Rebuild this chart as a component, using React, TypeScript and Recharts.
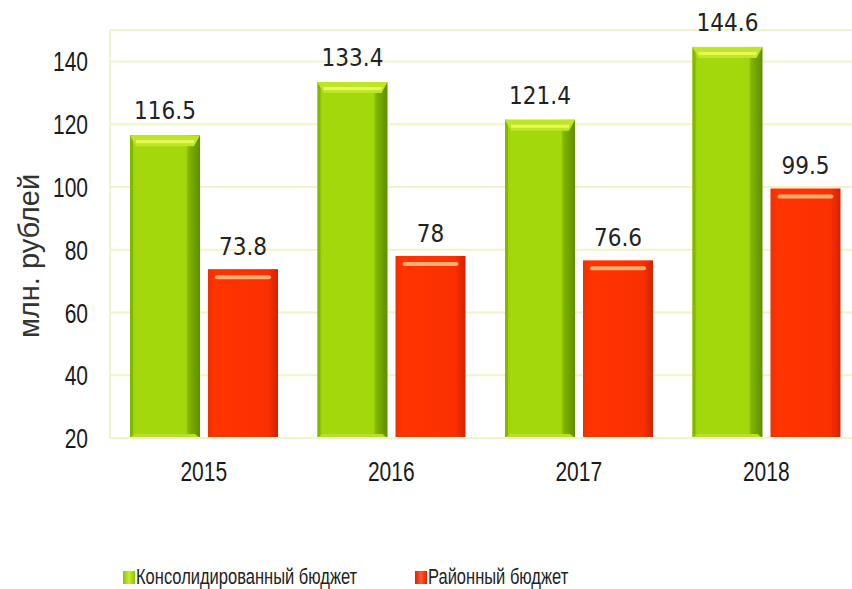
import { Bar, BarChart, CartesianGrid, LabelList, Legend, XAxis, YAxis } from "recharts";

const years = ["2015", "2016", "2017", "2018"];
const consolidated = [116.5, 133.4, 121.4, 144.6];
const district = [73.8, 78, 76.6, 99.5];
const yTicks = [20, 40, 60, 80, 100, 120, 140];

const seriesNames = { cons: "Консолидированный бюджет", dist: "Районный бюджет" };

const data = years.map((year, i) => ({ year, cons: consolidated[i], dist: district[i] }));

const SANS = "'Liberation Sans', Arial, sans-serif";
const COND = "'DejaVu Sans Condensed', 'DejaVu Sans', sans-serif";
const GRID = "#eef5c6";
const NARROW_X = 0.75;

function GreenBar(props: any) {
  const { x, y, width: w, height: h } = props;
  if (!h || h <= 0) return null;
  return (
    <g>
      <rect x={x} y={y} width={w} height={h} fill="url(#gBody)" />
      <rect x={x} y={y} width={3} height={h} fill="#84b800" />
      <polygon points={`${x},${y + h} ${x + w},${y + h} ${x + w - 5},${y + h - 4} ${x + 5},${y + h - 4}`} fill="#b6e02a" />
      <polygon points={`${x},${y} ${x + w},${y} ${x + w - 6},${y + 11} ${x + 6},${y + 11}`} fill="#bfe626" />
      <rect x={x + 6} y={y + 5} width={w - 12} height={3} fill="#e6fa5c" />
    </g>
  );
}

function RedBar(props: any) {
  const { x, y, width: w, height: h } = props;
  if (!h || h <= 0) return null;
  return (
    <g>
      <rect x={x} y={y} width={w} height={h} fill="url(#rBody)" />
      <rect x={x + 7} y={y + 6} width={w - 14} height={4} rx={2} fill="#ffae72" />
    </g>
  );
}

// narrow-looking tick text (no narrow font installed, so squeeze horizontally)
function XTick(props: any) {
  const { x, y, payload } = props;
  return (
    <text transform={`translate(${x},${y}) scale(${NARROW_X},1)`} textAnchor="middle" dy="0.72em" fontFamily={SANS} fontSize={28} fill="#1a1a1a">
      {payload.value}
    </text>
  );
}

function YTick(props: any) {
  const { x, y, payload } = props;
  return (
    <text transform={`translate(${x},${y}) scale(${NARROW_X},1)`} textAnchor="end" dy="0.36em" fontFamily={SANS} fontSize={28} fill="#1a1a1a">
      {payload.value}
    </text>
  );
}

function LegendContent() {
  const item = (left: number, icon: string, label: string) => (
    <div style={{ position: "absolute", left, top: 0, display: "flex", alignItems: "center", whiteSpace: "nowrap" }}>
      <div style={{ width: 12, height: 13, background: icon, marginRight: 1 }} />
      <span style={{ fontFamily: SANS, fontSize: 22, color: "#222", display: "inline-block", transform: "scaleX(0.75)", transformOrigin: "left center" }}>
        {label}
      </span>
    </div>
  );
  return (
    <div style={{ position: "relative", width: 852, height: 26 }}>
      {item(123, "linear-gradient(90deg,#8cc400,#c8ee30,#8cc400)", seriesNames.cons)}
      {item(415, "linear-gradient(90deg,#e02000,#ff5a30,#e02000)", seriesNames.dist)}
    </div>
  );
}

function YLabel() {
  return (
    <text x={29} y={256} transform="rotate(-90, 29, 256)" textAnchor="middle" dominantBaseline="central" fontFamily={SANS} fontSize={29} fill="#333">
      млн. рублей
    </text>
  );
}

export default function App() {
  return (
    <div style={{ width: 852, height: 589, overflow: "hidden", background: "#fff" }}>
      <style>{`body{margin:0}`}</style>
      <BarChart
        width={870}
        height={589}
        data={data}
        margin={{ top: 30, right: 10, bottom: 95, left: 0 }}
        barGap={8}
        barSize={70}
      >
        <defs>
          <linearGradient id="gBody" x1="0" y1="0" x2="1" y2="0">
            <stop offset="0" stopColor="#93c900" />
            <stop offset="0.08" stopColor="#a3d80c" />
            <stop offset="0.8" stopColor="#a3d80c" />
            <stop offset="0.84" stopColor="#80b400" />
            <stop offset="1" stopColor="#5e8e00" />
          </linearGradient>
          <linearGradient id="rBody" x1="0" y1="0" x2="1" y2="0">
            <stop offset="0" stopColor="#f23000" />
            <stop offset="0.1" stopColor="#ff3400" />
            <stop offset="0.85" stopColor="#fb3000" />
            <stop offset="1" stopColor="#d42200" />
          </linearGradient>
        </defs>
        <CartesianGrid vertical={false} stroke={GRID} strokeWidth={2} />
        <XAxis
          dataKey="year"
          axisLine={{ stroke: GRID, strokeWidth: 2 }}
          tickLine={false}
          tickSize={0}
          tickMargin={23}
          height={30}
          tick={<XTick />}
        />
        <YAxis
          domain={[20, 150]}
          ticks={yTicks}
          width={110}
          axisLine={{ stroke: GRID, strokeWidth: 2 }}
          tickLine={false}
          tickSize={0}
          tickMargin={22}
          tick={<YTick />}
          label={<YLabel />}
        />
        <Legend
          content={<LegendContent />}
          wrapperStyle={{ position: "absolute", top: 564, left: 0, width: 852 }}
        />
        <Bar dataKey="cons" name={seriesNames.cons} shape={<GreenBar />} isAnimationActive={false}>
          <LabelList dataKey="cons" position="top" offset={16} fontFamily={COND} fontSize={24} fill="#222" />
        </Bar>
        <Bar dataKey="dist" name={seriesNames.dist} shape={<RedBar />} isAnimationActive={false}>
          <LabelList dataKey="dist" position="top" offset={14} fontFamily={COND} fontSize={24} fill="#222" />
        </Bar>
      </BarChart>
    </div>
  );
}
